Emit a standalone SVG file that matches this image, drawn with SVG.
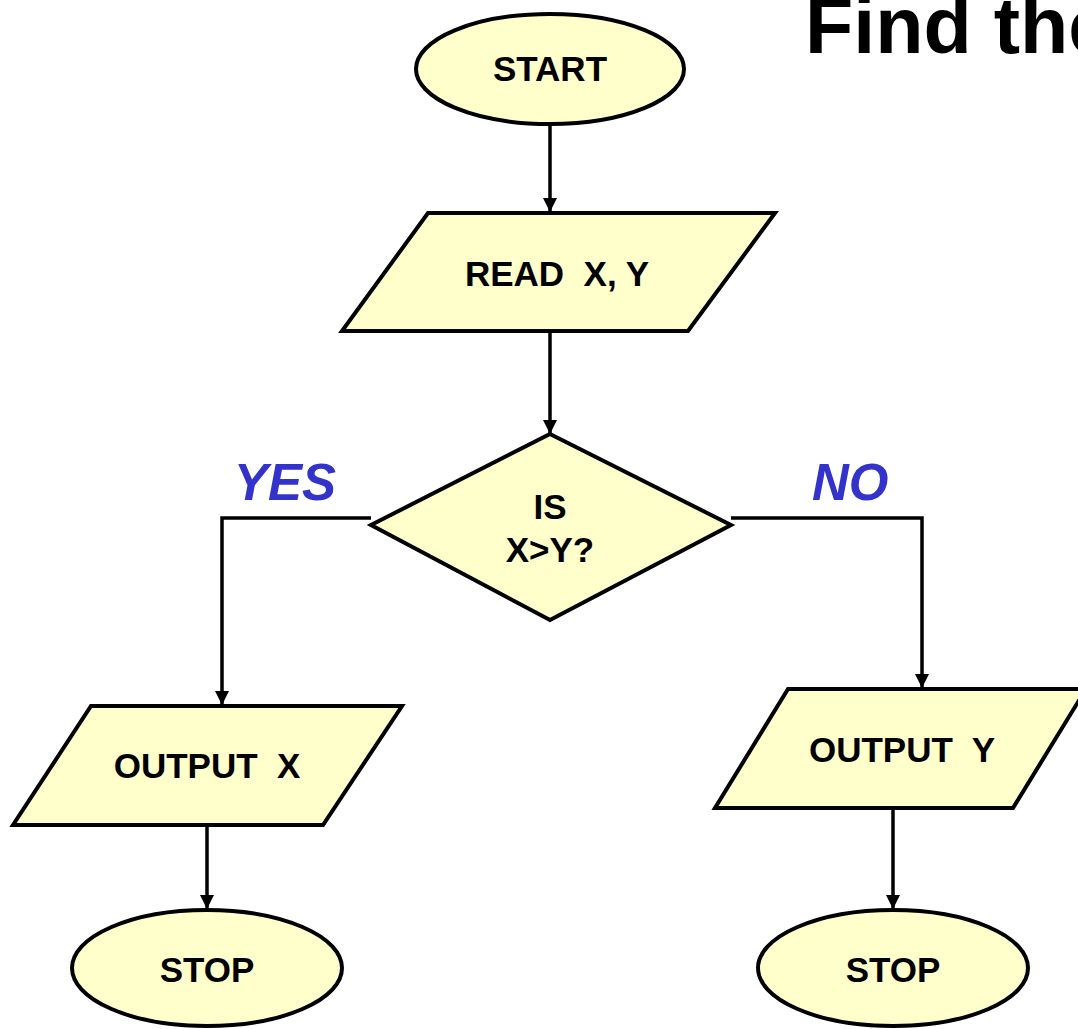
<svg xmlns="http://www.w3.org/2000/svg" width="1078" height="1029" viewBox="0 0 1078 1029">
  <style>
    .box { fill: #FFFFCC; stroke: #000; stroke-width: 4; stroke-linejoin: miter; }
    .lbl { font-family: "Liberation Sans", Arial, sans-serif; font-weight: bold; font-size: 35px; fill: #000; text-anchor: middle; }
    .branch { font-family: "Liberation Sans", Arial, sans-serif; font-weight: bold; font-style: italic; font-size: 51px; fill: #3333CC; }
    .title { font-family: "Liberation Sans", Arial, sans-serif; font-weight: bold; font-size: 79px; fill: #000; }
    .wire { fill: none; stroke: #000; stroke-width: 3.5; }
  </style>
  <defs>
    <marker id="arrow" viewBox="0 0 10 10" refX="10" refY="5" markerWidth="4" markerHeight="4.2" orient="auto" markerUnits="strokeWidth">
      <path d="M0,0 L10,5 L0,10 z" fill="#000"/>
    </marker>
  </defs>

  <rect width="1078" height="1029" fill="#fff"/>

  <!-- heading, running off the right edge of the page -->
  <text class="title" x="805" y="53">Find the</text>

  <!-- connectors -->
  <g id="connectors">
    <line class="wire" x1="550" y1="125" x2="550" y2="212" marker-end="url(#arrow)"/>
    <line class="wire" x1="550" y1="331" x2="550" y2="434" marker-end="url(#arrow)"/>
    <polyline class="wire" points="371,518 222,518 222,705" marker-end="url(#arrow)"/>
    <polyline class="wire" points="731,518 922,518 922,688" marker-end="url(#arrow)"/>
    <line class="wire" x1="207" y1="825" x2="207" y2="909" marker-end="url(#arrow)"/>
    <line class="wire" x1="893" y1="808" x2="893" y2="909" marker-end="url(#arrow)"/>
    <text class="branch" x="234" y="500">YES</text>
    <text class="branch" x="812" y="500">NO</text>
  </g>

  <g id="start">
    <ellipse class="box" cx="550" cy="69" rx="134" ry="55"/>
    <text class="lbl" x="550" y="81">START</text>
  </g>

  <g id="read">
    <polygon class="box" points="428,213 775,213 688,331 342,331"/>
    <text class="lbl" x="557" y="286" xml:space="preserve">READ  X, Y</text>
  </g>

  <g id="decision">
    <polygon class="box" points="550,434 731,525 550,620 371,525"/>
    <text class="lbl" x="550" y="519">IS</text>
    <text class="lbl" x="550" y="562">X&gt;Y?</text>
  </g>

  <g id="output-x">
    <polygon class="box" points="91,706 402,706 323,825 13,825"/>
    <text class="lbl" x="207" y="778" xml:space="preserve">OUTPUT  X</text>
  </g>

  <g id="output-y">
    <polygon class="box" points="788,689 1086,689 1013,808 715,808"/>
    <text class="lbl" x="902" y="762" xml:space="preserve">OUTPUT  Y</text>
  </g>

  <g id="stop-x">
    <ellipse class="box" cx="207" cy="968" rx="135" ry="58"/>
    <text class="lbl" x="207" y="982">STOP</text>
  </g>

  <g id="stop-y">
    <ellipse class="box" cx="893" cy="968" rx="135" ry="58"/>
    <text class="lbl" x="893" y="982">STOP</text>
  </g>
</svg>
